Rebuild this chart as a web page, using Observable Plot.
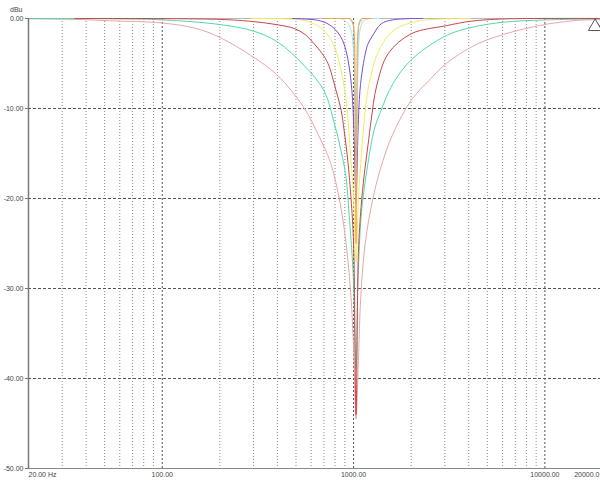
<!DOCTYPE html>
<html><head><meta charset="utf-8">
<script src="https://cdn.jsdelivr.net/npm/d3@7"></script>
<script src="https://cdn.jsdelivr.net/npm/@observablehq/plot@0.6"></script>
<style>html,body{margin:0;padding:0;background:#fff;} svg{display:block}</style>
</head><body><div id="chart"></div>
<script>
// ---- axis / grid values ----
const gridMinor = [30,40,50,60,70,80,90,200,300,400,500,600,700,800,900,2000,3000,4000,5000,6000,7000,8000,9000];
const gridMajor = [100,1000,10000];
const gridY = [-10,-20,-30,-40];
const xTicks = [20,100,1000,10000,20000];
const xTickLabels = ["20.00 Hz","100.00","1000.00","10000.00","20000.0"];
const yTicks = [0,-10,-20,-30,-40,-50];
const yTickLabels = ["0.00","-10.00","-20.00","-30.00","-40.00","-50.00"];
const yUnit = "dBu";

// ---- series (frequency Hz, level dBu) ----
const grayF = [20, 960, 1000, 1030, 1062, 1100, 20000];
const grayDb = [0, 0, -0.8, -15, -0.8, 0, 0];

const pinkF = [20, 35, 53, 100, 150, 200, 300, 400, 550, 650, 760, 850, 920, 970, 1000, 1030, 1060, 1090, 1150, 1265, 1400, 1600, 2000, 2500, 3050, 4100, 5100, 7300, 10400, 15000, 20000];
const pinkDb = [-0.04, -0.1, -0.25, -0.5, -1.1, -2.1, -4.3, -6.3, -9.9, -12.8, -16.1, -20.5, -25.5, -31, -36.6, -44.5, -38, -31, -25, -19.9, -16.3, -12.9, -9.1, -6.8, -5.0, -3.2, -2.3, -1.3, -0.6, -0.2, -0.1];

const greenF = [20, 60, 100, 200, 300, 400, 550, 700, 790, 860, 914, 947, 993, 1030, 1055, 1095, 1135, 1191, 1280, 1393, 1600, 2000, 3050, 4120, 6140, 10400, 20000];
const greenDb = [0, -0.05, -0.15, -0.67, -1.4, -2.6, -5.2, -8, -11.5, -14.7, -17.7, -21.7, -28, -39, -29, -22, -19, -16, -12.4, -10.2, -7.3, -4.6, -1.9, -1.0, -0.4, -0.15, -0.03];

const redF = [35, 200, 300, 400, 488, 560, 621, 680, 735, 810, 861, 892, 936, 970, 1000, 1030, 1060, 1094, 1135, 1191, 1236, 1320, 1517, 2000, 3050, 4120, 6140, 20000];
const redDb = [0, -0.1, -0.35, -0.7, -1.1, -1.8, -2.8, -3.8, -5, -8, -10.2, -12.4, -16.1, -20, -25, -44, -26, -21, -17.5, -14, -11.3, -7.5, -3.9, -1.7, -0.8, -0.3, -0.05, 0];

const yellowF = [290, 450, 550, 620, 700, 790, 861, 914, 960, 1000, 1030, 1060, 1105, 1160, 1236, 1340, 1517, 1750, 2300, 3000, 4100];
const yellowDb = [0, -0.05, -0.2, -0.6, -1.3, -3.0, -5.8, -9.1, -14.5, -20, -27, -20, -14.5, -9.5, -6.2, -3.8, -1.9, -0.9, -0.2, -0.05, 0];

const purpleF = [480, 650, 735, 800, 861, 914, 950, 980, 1005, 1030, 1055, 1080, 1116, 1160, 1191, 1250, 1393, 1600, 2300];
const purpleDb = [0, -0.2, -0.6, -1.2, -2.1, -3.6, -5.5, -8, -12.5, -20.5, -12.5, -8, -5.5, -3.6, -2.8, -2.0, -0.6, -0.15, 0];

const cyanF = [860, 920, 970, 1007, 1030, 1055, 1080, 1135, 1230, 1390];
const cyanDb = [0, -0.4, -1.3, -4.7, -18, -4.7, -1.3, -0.2, 0, 0];

const orangeF = [700, 940, 993, 1015, 1030, 1045, 1069, 1130, 1250];
const orangeDb = [0, 0, -0.6, -3, -25, -3, -0.6, 0, 0];

const markerF = [18300];
const markerDb = [-0.9];
const markerLinkF = [18300, 19800];
const markerLinkDb = [-0.3, -1.1];

// ---- build ----
const rows = (F, D) => F.map((f, i) => ({f, db: D[i]}));
const series = [
  [grayF, grayDb, "#b8b8b8", "monotone-x"],
  [pinkF, pinkDb, "#eaa6aa", "catmull-rom"],
  [greenF, greenDb, "#4fdba9", "catmull-rom"],
  [redF, redDb, "#c8464a", "catmull-rom"],
  [yellowF, yellowDb, "#f3ec5c", "catmull-rom"],
  [purpleF, purpleDb, "#7b4bd6", "catmull-rom"],
  [cyanF, cyanDb, "#9fe6f0", "monotone-x"],
  [orangeF, orangeDb, "#f0a64e", "monotone-x"]
];
const lineMarks = series.map(([F, D, c, k]) =>
  Plot.line(rows(F, D), {x: "f", y: "db", stroke: c, strokeWidth: 1, curve: k}));

const fmtX = d => xTickLabels[xTicks.indexOf(d)];
const fmtY = d => yTickLabels[yTicks.indexOf(d)];

const chart = Plot.plot({
  width: 600, height: 480,
  marginLeft: 28, marginTop: 18, marginBottom: 12, marginRight: 0,
  x: {type: "log", domain: [20, 20000], range: [28, 602]},
  y: {domain: [-50, 0], range: [468, 18]},
  style: {fontFamily: "Liberation Sans, Arial, sans-serif", fontSize: "7px", background: "#fff", color: "#444"},
  marks: [
    Plot.ruleX(gridMinor, {stroke: "#8a8a8a", strokeDasharray: "1,2"}),
    Plot.ruleX(gridMajor, {stroke: "#555", strokeDasharray: "2,2"}),
    Plot.ruleY(gridY, {stroke: "#555", strokeDasharray: "3,2"}),
    ...lineMarks,
    Plot.line(rows(markerLinkF, markerLinkDb), {x: "f", y: "db", stroke: "#7b4bd6", strokeWidth: 1.2}),
    Plot.dot(rows(markerF, markerDb), {x: "f", y: "db", symbol: "triangle", r: 5, fill: "#fff", stroke: "#555", strokeWidth: 1}),
    Plot.ruleX([20], {stroke: "#777", strokeWidth: 1.5}),
    Plot.ruleY([-50], {stroke: "#888", strokeWidth: 1}),
    Plot.axisY(yTicks, {tickFormat: fmtY, tickSize: 3, tickPadding: 2, stroke: "#777", fill: "#444", label: null}),
    Plot.axisX([20], {tickFormat: fmtX, tickSize: 0, tickPadding: 4, textAnchor: "start", fill: "#444", label: null}),
    Plot.axisX([100, 1000, 10000], {tickFormat: fmtX, tickSize: 0, tickPadding: 4, fill: "#444", label: null}),
    Plot.axisX([20000], {tickFormat: fmtX, tickSize: 0, tickPadding: 4, textAnchor: "end", dx: -3, fill: "#444", label: null}),
    Plot.text([yUnit], {frameAnchor: "top-left", dx: -6, dy: -11, textAnchor: "end", fill: "#444"})
  ]
});
document.getElementById("chart").appendChild(chart);
</script></body></html>
